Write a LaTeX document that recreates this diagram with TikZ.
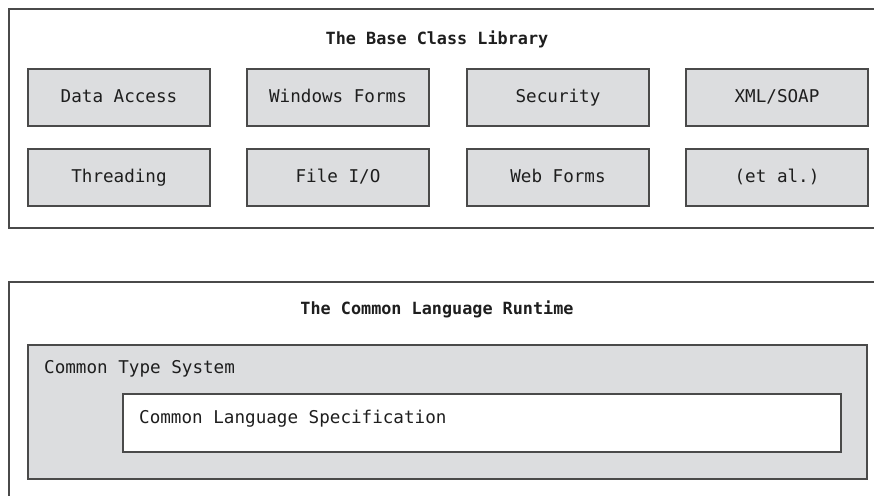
\documentclass[tikz,border=0pt]{standalone}
\usepackage{fontspec}
\setmonofont{DejaVu Sans Mono}
\definecolor{boxfill}{HTML}{DCDDDF}
\definecolor{boxline}{HTML}{4A4A4A}
\definecolor{ink}{HTML}{1E1E1E}
\begin{document}
\begin{tikzpicture}[x=1pt,y=-1pt,
  frame/.style={draw=boxline,line width=1.3pt},
  libbox/.style={draw=boxline,line width=1.3pt,fill=boxfill,minimum width=182pt,minimum height=57pt,inner sep=0pt,text=ink,text height=12.5pt,text depth=3pt,font=\ttfamily\fontsize{17.6}{19}\selectfont},
  title/.style={text=ink,font=\ttfamily\bfseries\fontsize{16.8}{19}\selectfont,inner sep=0pt,text height=12.5pt,text depth=3pt},
  lbl/.style={text=ink,font=\ttfamily\fontsize{17.6}{19}\selectfont,inner sep=0pt,anchor=west,text height=12.5pt,text depth=3pt}]
\useasboundingbox (0,0) rectangle (874,496);
\fill[white] (0,0) rectangle (874,496);
% top frame (open on the right)
\draw[frame] (874,9) -- (9,9) -- (9,228) -- (874,228);
\node[title] (bcl) at (437,40) {The Base Class Library};
\node[libbox] (data) at (119,97.5) {Data Access};
\node[libbox] (winf) at (338,97.5) {Windows Forms};
\node[libbox] (sec)  at (558,97.5) {Security};
\node[libbox] (xml)  at (777,97.5) {XML/SOAP};
\node[libbox] (thr)  at (119,177.5) {Threading};
\node[libbox] (fio)  at (338,177.5) {File I/O};
\node[libbox] (webf) at (558,177.5) {Web Forms};
\node[libbox] (etal) at (777,177.5) {(et al.)};
% bottom frame (open on the right and bottom)
\draw[frame] (874,282) -- (9,282) -- (9,496);
\node[title] (clr) at (437,310) {The Common Language Runtime};
\node[draw=boxline,line width=1.3pt,fill=boxfill,minimum width=839pt,minimum height=134pt,inner sep=0pt] (cts) at (447.5,412) {};
\node[lbl] (ctst) at (44,369) {Common Type System};
\node[draw=boxline,line width=1.3pt,fill=white,minimum width=718pt,minimum height=58pt,inner sep=0pt] (cls) at (482,423) {};
\node[lbl] (clst) at (139,419) {Common Language Specification};
\end{tikzpicture}
\end{document}
